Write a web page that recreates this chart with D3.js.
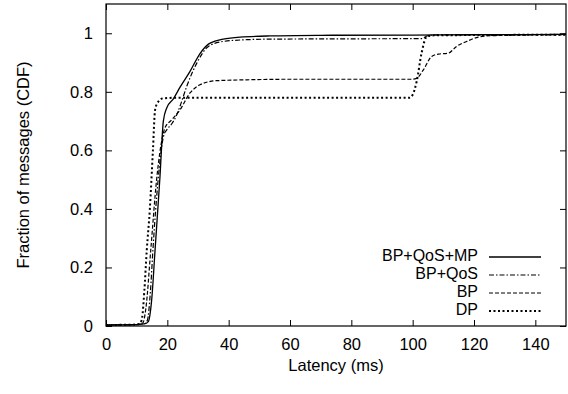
<!DOCTYPE html>
<html>
<head>
<meta charset="utf-8">
<script src="https://cdn.jsdelivr.net/npm/d3@7"></script>
<style>
  body { margin: 0; background: #fff; }
  svg { display: block; font-family: "Liberation Sans", Arial, sans-serif; }
</style>
</head>
<body>
<div id="chart"></div>
<script>
// series names (legend order)
const seriesNames = ["BP+QoS+MP", "BP+QoS", "BP", "DP"];

// latency (ms) / CDF values
const mpX = [0, 5, 10, 12.5, 13.8, 14.9, 16, 17.6, 18.7, 19.8, 21.9, 24.1, 27.4, 30.6, 33.4, 35.5, 38.2, 43.7, 53.5, 70, 100, 120, 150];
const mpY = [0.003, 0.004, 0.005, 0.007, 0.015, 0.09, 0.26, 0.51, 0.70, 0.745, 0.775, 0.815, 0.87, 0.93, 0.963, 0.973, 0.98, 0.987, 0.991, 0.993, 0.994, 0.995, 0.996];

const qosX = [0, 5, 10, 12.5, 13.5, 14.5, 15.3, 17, 18.8, 19.8, 21.4, 23, 24.1, 26.3, 29.6, 33.4, 38.2, 45.9, 53.5, 80, 103, 104.5, 106, 120, 150];
const qosY = [0.003, 0.004, 0.005, 0.008, 0.02, 0.12, 0.26, 0.5, 0.65, 0.67, 0.69, 0.72, 0.75, 0.818, 0.898, 0.955, 0.972, 0.978, 0.98, 0.981, 0.982, 0.99, 0.994, 0.995, 0.996];

const bpX = [0, 5, 10, 12, 13, 14.6, 16.5, 18.5, 19.2, 21.4, 24.1, 27.4, 30.6, 36, 45.9, 60, 100, 101.3, 103.5, 106.2, 108.4, 111.6, 114.3, 117.6, 121.4, 126.3, 150];
const bpY = [0.003, 0.004, 0.005, 0.01, 0.06, 0.26, 0.5, 0.65, 0.676, 0.704, 0.738, 0.796, 0.824, 0.838, 0.841, 0.843, 0.843, 0.846, 0.875, 0.921, 0.929, 0.932, 0.955, 0.972, 0.987, 0.992, 0.995];

const dpX = [0, 5, 10, 11.2, 11.8, 12.5, 13.3, 14.3, 15.3, 16, 17.1, 18.7, 25, 60, 99, 100, 101.3, 102.9, 104.6, 107, 150];
const dpY = [0.003, 0.004, 0.005, 0.01, 0.03, 0.12, 0.26, 0.40, 0.6, 0.738, 0.767, 0.778, 0.78, 0.78, 0.78, 0.79, 0.835, 0.932, 0.989, 0.993, 0.995];

const xTicks = [0, 20, 40, 60, 80, 100, 120, 140];
const yTicks = [0, 0.2, 0.4, 0.6, 0.8, 1];

const width = 568;
const height = 394;
const marginTop = 4;
const marginRight = 2;
const marginBottom = 68;
const marginLeft = 106;

const series = [
    { name: seriesNames[0], xs: mpX, ys: mpY, dash: null, sw: 1.3 },
    { name: seriesNames[1], xs: qosX, ys: qosY, dash: "5,2,1.5,2", sw: 1.2 },
    { name: seriesNames[2], xs: bpX, ys: bpY, dash: "4,2", sw: 1.2 },
    { name: seriesNames[3], xs: dpX, ys: dpY, dash: "2,2.5", sw: 2 }
];

const x = d3.scaleLinear()
    .domain([0, 150])
    .range([marginLeft, width - marginRight]);

const y = d3.scaleLinear()
    .domain([0, 1.1])
    .range([height - marginBottom, marginTop]);

const svg = d3.select("#chart").append("svg")
    .attr("width", width)
    .attr("height", height)
    .attr("viewBox", [0, 0, width, height]);

const tickLen = 6;

// bottom axis, ticks pointing inward
svg.append("g")
    .attr("transform", `translate(0,${height - marginBottom})`)
    .call(d3.axisBottom(x).tickValues(xTicks).tickSize(-tickLen).tickPadding(12).tickFormat(d3.format("d")))
    .call(g => g.select(".domain").remove())
    .call(g => g.selectAll("text").attr("font-size", 16.5).attr("fill", "#000"));

// top ticks (mirrored)
svg.append("g")
    .attr("transform", `translate(0,${marginTop})`)
    .call(d3.axisTop(x).tickValues(xTicks).tickSize(-tickLen).tickFormat(""))
    .call(g => g.select(".domain").remove());

// left axis
svg.append("g")
    .attr("transform", `translate(${marginLeft},0)`)
    .call(d3.axisLeft(y).tickValues(yTicks).tickSize(-tickLen).tickPadding(13).tickFormat(d => d === 0 || d === 1 ? d : d3.format(".1f")(d)))
    .call(g => g.select(".domain").remove())
    .call(g => g.selectAll("text").attr("font-size", 16.5).attr("fill", "#000"));

// right ticks (mirrored)
svg.append("g")
    .attr("transform", `translate(${width - marginRight},0)`)
    .call(d3.axisRight(y).tickValues(yTicks).tickSize(-tickLen).tickFormat(""))
    .call(g => g.select(".domain").remove());

// frame
svg.append("rect")
    .attr("x", marginLeft)
    .attr("y", marginTop)
    .attr("width", width - marginRight - marginLeft)
    .attr("height", height - marginBottom - marginTop)
    .attr("fill", "none")
    .attr("stroke", "#000")
    .attr("stroke-width", 1.2);

// axis titles
svg.append("text")
    .attr("x", (marginLeft + width - marginRight) / 2)
    .attr("y", 367)
    .attr("text-anchor", "middle")
    .attr("dominant-baseline", "middle")
    .attr("font-size", 16.5)
    .text("Latency (ms)");

svg.append("text")
    .attr("transform", `translate(25,${(marginTop + height - marginBottom) / 2}) rotate(-90)`)
    .attr("text-anchor", "middle")
    .attr("dominant-baseline", "middle")
    .attr("font-size", 16.5)
    .text("Fraction of messages (CDF)");

const line = d3.line()
    .x(d => x(d[0]))
    .y(d => y(d[1]))
    .curve(d3.curveMonotoneX);

svg.append("g")
    .selectAll("path")
    .data(series)
    .join("path")
    .attr("fill", "none")
    .attr("stroke", "#000")
    .attr("stroke-width", d => d.sw)
    .attr("stroke-dasharray", d => d.dash)
    .attr("d", d => line(d.xs.map((v, i) => [v, d.ys[i]])));

// legend
const legend = svg.append("g")
    .selectAll("g")
    .data(series)
    .join("g")
    .attr("transform", (d, i) => `translate(0,${257 + i * 18})`);

legend.append("text")
    .attr("x", 478)
    .attr("y", 0)
    .attr("text-anchor", "end")
    .attr("dominant-baseline", "middle")
    .attr("font-size", 16)
    .text(d => d.name);

legend.append("line")
    .attr("x1", 489)
    .attr("x2", 541)
    .attr("y1", 0)
    .attr("y2", 0)
    .attr("stroke", "#000")
    .attr("stroke-width", d => d.sw)
    .attr("stroke-dasharray", d => d.dash);
</script>
</body>
</html>
